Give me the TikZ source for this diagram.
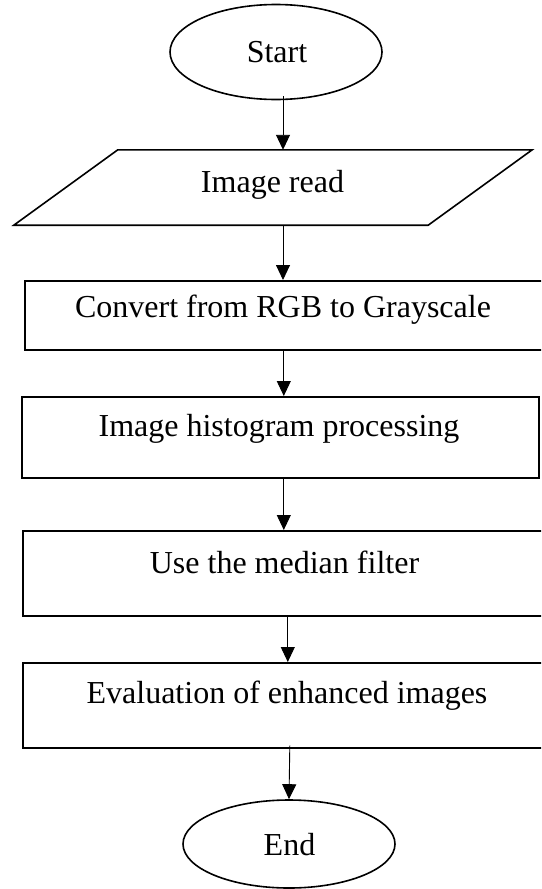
\documentclass[tikz,border=0pt]{standalone}
\usepackage{fontspec}
\setmainfont{Liberation Serif}
\usetikzlibrary{shapes.geometric,arrows.meta,calc}
\begin{document}
\begin{tikzpicture}[x=1pt,y=-1pt,
  terminal/.style={ellipse, draw, line width=1.6pt, inner sep=0pt},
  procbox/.style={rectangle, draw, line width=1.6pt, inner sep=0pt, anchor=north west},
  txt/.style={inner sep=0pt, font=\fontsize{32}{37}\selectfont},
  flow/.style={-{Triangle[length=15pt,width=14pt]}, line width=0.9pt}]
\useasboundingbox (0,0) rectangle (541,889);
\clip (0,0) rectangle (541,889);
% terminals
\node[terminal, minimum width=212pt, minimum height=95pt] (start) at (276,52) {};
\node[txt] (tstart) at (277,52) {Start};
% parallelogram
\node[minimum width=414pt, minimum height=75pt, inner sep=0pt] (read) at (273,187.5) {};
\draw[line width=1.6pt] ([xshift=52pt]read.north west) -- ([xshift=52pt]read.north east)
  -- ([xshift=-52pt]read.south east) -- ([xshift=-52pt]read.south west) -- cycle;
\node[txt] (tread) at (272.5,185) {Image read};
% boxes
\node[procbox, minimum width=540pt, minimum height=69pt] (b1) at (24,280) {};
\node[txt] (t1) at (283,310) {Convert from RGB to Grayscale};
\node[procbox, minimum width=517pt, minimum height=81pt] (b2) at (21,396) {};
\node[txt] (t2) at (279,429) {Image histogram processing};
\node[procbox, minimum width=540pt, minimum height=85pt] (b3) at (22,530) {};
\node[txt] (t3) at (284.5,562) {Use the median filter};
\node[procbox, minimum width=540pt, minimum height=85pt] (b4) at (22,662) {};
\node[txt] (t4) at (287,696) {Evaluation of enhanced images};
\node[terminal, minimum width=212pt, minimum height=88pt] (end) at (289,844) {};
\node[txt] (tend) at (289.5,845) {End};
% connectors
\draw[flow] ([xshift=7pt,yshift=4pt]start.south) -- ([xshift=7pt]start.south |- read.north);
\draw[flow] ([xshift=10pt]read.south) -- ([xshift=10pt]read.south |- b1.north);
\draw[flow] ([xshift=283pt-24pt-270pt]b1.south) -- ([xshift=283pt-24pt-270pt]b1.south |- b2.north);
\draw[flow] ([xshift=283pt-21pt-258.5pt]b2.south) -- ([xshift=283pt-21pt-258.5pt]b2.south |- b3.north);
\draw[flow] ([xshift=287pt-22pt-270pt]b3.south) -- ([xshift=287pt-22pt-270pt]b3.south |- b4.north);
\draw[flow] ([xshift=289pt-22pt-270pt,yshift=3pt]b4.south) -- (end.north);
\end{tikzpicture}
\end{document}
